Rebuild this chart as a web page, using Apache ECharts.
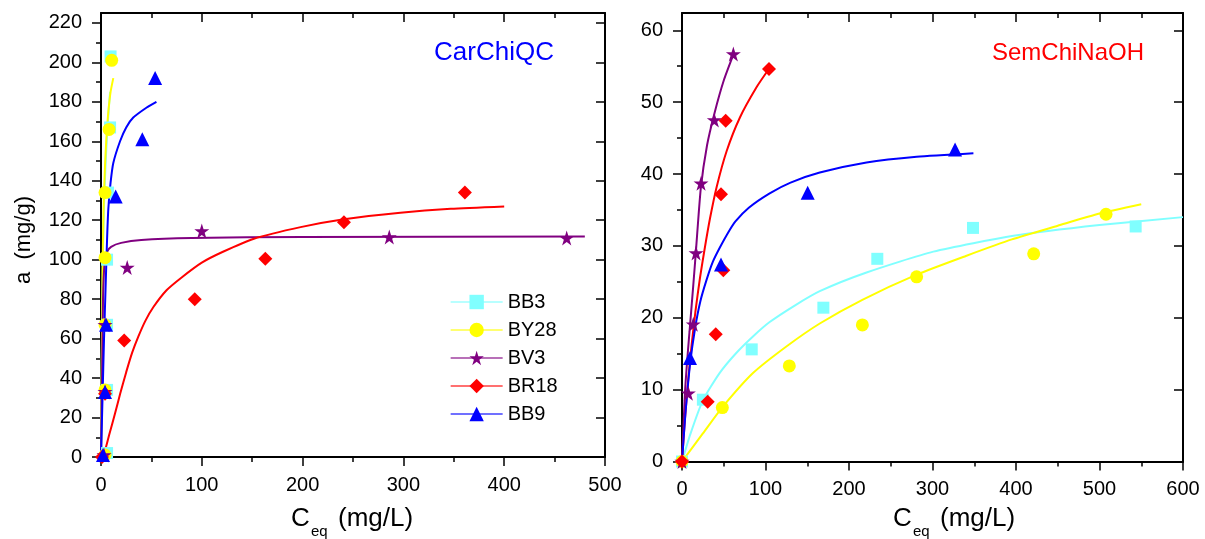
<!DOCTYPE html>
<html>
<head>
<meta charset="utf-8">
<script src="https://cdn.jsdelivr.net/npm/echarts@6/dist/echarts.min.js"></script>
<style>
  html, body { margin: 0; padding: 0; background: #ffffff; }
  #chart { width: 1205px; height: 539px; }
</style>
</head>
<body>
<div id="chart"></div>
<script>
// Dye names (legend order)
const dyeNames = ['BB3', 'BY28', 'BV3', 'BR18', 'BB9'];

// ---- CarChiQC: measured points [C_eq, a] ----
const carBB3  = [[6, 2], [6, 34], [6, 67], [6, 100], [7, 134], [9, 167], [9.5, 203]];
const carBY28 = [[4, 1], [4, 34], [4, 67], [4, 101], [4, 134], [8, 166], [10.6, 201]];
const carBV3  = [[3, 1], [4, 33], [4, 67], [26, 96], [100, 114.5], [286, 111.5], [462, 111]];
const carBR18 = [[1, 0], [4, 32], [23, 59], [93, 80], [163, 100.5], [241, 119], [361, 134]];
const carBB9  = [[2, 1], [4, 33], [5, 67], [14.6, 132], [41, 161], [53.7, 192]];

// ---- CarChiQC: fitted isotherm curves [C_eq, a] ----
const carFitBB3  = [[0, 0], [0.5, 35], [1, 65], [2, 105], [3, 128], [4.5, 148], [6, 163], [7.5, 175], [9, 185]];
const carFitBY28 = [[0, 0], [0.5, 30], [1, 60], [1.7, 100], [2.5, 125], [4, 148], [5.5, 163], [7.3, 175], [9.5, 185], [12.2, 192]];
const carFitBV3  = [[0, 0], [1, 40], [2, 80], [3.5, 98], [6, 104], [10, 106.5], [20, 108.5], [40, 110], [90, 111], [200, 111.5], [480, 111.8]];
const carFitBR18 = [[1.5, 0], [3.3, 2], [8, 11], [13.9, 22], [19, 32], [25, 43], [31, 53], [37, 61], [44, 69], [52, 76],
                    [65, 84.5], [80, 91], [100, 98.5], [121, 104], [151, 110.5], [198, 116.5], [241, 120.5], [297, 123.8], [347, 125.8], [400, 127]];
const carFitBB9  = [[0, 0], [1.5, 30], [3, 60], [4.5, 85], [6, 110], [7.3, 126], [9.5, 139], [12.2, 149], [18.9, 160], [25, 167], [32, 172], [45, 177], [55, 180]];

// ---- SemChiNaOH: measured points [C_eq, a] ----
const semBB3  = [[0, 0], [25, 8.6], [83.5, 15.6], [169.3, 21.4], [233.9, 28.2], [348.5, 32.5], [543.3, 32.7]];
const semBY28 = [[0, 0], [48.3, 7.5], [128.5, 13.3], [216, 19], [281, 25.7], [421.2, 28.9], [507.8, 34.4]];
const semBV3  = [[0, 0], [7.6, 9.5], [13.5, 19.1], [16.8, 29], [22.8, 38.7], [38.7, 47.5], [61.5, 56.7]];
const semBR18 = [[0, 0], [30.8, 8.3], [40.4, 17.7], [49.5, 26.6], [46.7, 37.2], [52.3, 47.4], [104.2, 54.6]];
const semBB9  = [[9.6, 14.4], [46.7, 27.4], [150.5, 37.4], [327, 43.4]];

// ---- SemChiNaOH: fitted isotherm curves [C_eq, a] ----
const semFitBB3  = [[0, 0], [10, 3.8], [25, 8.5], [45, 12.3], [65, 15.1], [85, 17.4], [105, 19.4], [135, 21.7], [165, 23.7],
                    [221, 26.3], [301, 29.2], [397, 31.4], [500, 32.9], [600, 34]];
const semFitBY28 = [[0, 0], [25, 3.9], [48, 7.5], [85, 12.3], [125, 16], [165, 19.2], [216, 22.5], [281, 26], [340, 28.6],
                    [395, 30.9], [450, 32.8], [500, 34.5], [550, 35.8]];
const semFitBV3  = [[0, 0], [3.5, 9.5], [6.5, 14.5], [10, 19.5], [13.5, 24.5], [16.5, 29], [22.5, 38], [30, 44], [39, 48.5], [50, 53], [61.5, 56.6]];
const semFitBR18 = [[0, 0], [3.6, 6], [7.5, 11.5], [11.6, 16.3], [16, 20.8], [21.6, 25.6], [27, 29.5], [33.5, 33.8], [41.5, 38.2],
                    [53.5, 43.2], [69.5, 47.9], [89.4, 52.1], [103.4, 54.5]];
const semFitBB9  = [[0, 0], [4, 6.5], [9.6, 13.5], [15.6, 18.5], [22, 22.3], [29.5, 25.3], [37, 27.8], [45.5, 29.8], [55, 31.8],
                    [64, 33.4], [80, 35.3], [105, 37.3], [130, 38.8], [165, 40.2], [221, 41.6], [281, 42.4], [349, 42.9]];

// ---- Axis ticks ----
const carXMax = 500;
const carYMax = 225;
const carYMajor = [0, 20, 40, 60, 80, 100, 120, 140, 160, 180, 200, 220];
const carYMinor = [10, 30, 50, 70, 90, 110, 130, 150, 170, 190, 210];
const semXMax = 600;
const semYMax = 62.4;
const semYMajor = [0, 10, 20, 30, 40, 50, 60];
const semYMinor = [5, 15, 25, 35, 45, 55];

// ---- Styles ----
const FONT = '"Liberation Sans", Arial, Helvetica, sans-serif';
const STAR = 'path://M12,0 L14.8,8.6 L23.9,8.6 L16.5,13.9 L19.3,22.6 L12,17.2 L4.7,22.6 L7.5,13.9 L0.1,8.6 L9.2,8.6 Z';
const dyeStyle = {
  BB3:  { color: '#80FFFF', symbol: 'rect',     size: 12 },
  BY28: { color: '#FFFF00', symbol: 'circle',   size: 13 },
  BV3:  { color: '#800080', symbol: STAR,       size: 15 },
  BR18: { color: '#FF0000', symbol: 'diamond',  size: 14 },
  BB9:  { color: '#0000FF', symbol: 'triangle', size: 14 }
};
const lineBlack = { color: '#000000', width: 2 };
const tickBlack = { color: '#000000', width: 1.5 };

function fitSeries(name, data, xi, yi) {
  const s = dyeStyle[name];
  return {
    type: 'line', name: name, data: data, xAxisIndex: xi, yAxisIndex: yi,
    smooth: 0.2, showSymbol: false, symbol: s.symbol, symbolSize: s.size,
    lineStyle: { color: s.color, width: 2 }, itemStyle: { color: s.color },
    z: 2, silent: true, animation: false
  };
}
function pointSeries(name, data, xi, yi) {
  const s = dyeStyle[name];
  return {
    type: 'scatter', name: name, data: data, xAxisIndex: xi, yAxisIndex: yi,
    symbol: s.symbol, symbolSize: s.size, itemStyle: { color: s.color, opacity: 1 },
    z: 3, silent: true, animation: false
  };
}

function xAxes(gridIndex, max) {
  const base = { gridIndex: gridIndex, type: 'value', min: 0, max: max, interval: 100,
    splitLine: { show: false }, minorSplitLine: { show: false } };
  return [
    Object.assign({}, base, {
      position: 'bottom',
      axisLine: { show: true, onZero: false, lineStyle: lineBlack },
      axisTick: { show: true, inside: false, length: 9, lineStyle: tickBlack },
      minorTick: { show: true, splitNumber: 2, length: 5, lineStyle: tickBlack },
      axisLabel: { show: true, margin: 18, fontSize: 20, color: '#000', fontFamily: FONT }
    }),
    Object.assign({}, base, {
      position: 'top',
      axisLine: { show: true, onZero: false, lineStyle: lineBlack },
      axisTick: { show: true, inside: true, length: 9, lineStyle: tickBlack },
      minorTick: { show: true, splitNumber: 2, length: 5, lineStyle: tickBlack },
      axisLabel: { show: false }
    })
  ];
}

function yAxes(gridIndex, max, majors, minors) {
  const base = { gridIndex: gridIndex, type: 'value', min: 0, max: max, splitLine: { show: false } };
  return [
    Object.assign({}, base, {
      position: 'left',
      axisLine: { show: true, onZero: false, lineStyle: lineBlack },
      axisTick: { show: true, inside: false, length: 9, customValues: majors, lineStyle: tickBlack },
      axisLabel: { show: true, customValues: majors, margin: 19, fontSize: 20, color: '#000', fontFamily: FONT }
    }),
    Object.assign({}, base, {
      position: 'left',
      axisLine: { show: false },
      axisTick: { show: true, inside: false, length: 5, customValues: minors, lineStyle: tickBlack },
      axisLabel: { show: false }
    }),
    Object.assign({}, base, {
      position: 'right',
      axisLine: { show: true, onZero: false, lineStyle: lineBlack },
      axisTick: { show: true, inside: true, length: 9, customValues: majors, lineStyle: tickBlack },
      axisLabel: { show: false }
    }),
    Object.assign({}, base, {
      position: 'right',
      axisLine: { show: false },
      axisTick: { show: true, inside: true, length: 5, customValues: minors, lineStyle: tickBlack },
      axisLabel: { show: false }
    })
  ];
}

const carPoints = [carBB3, carBY28, carBV3, carBR18, carBB9];
const carFits = [carFitBB3, carFitBY28, carFitBV3, carFitBR18, carFitBB9];
const semPoints = [semBB3, semBY28, semBV3, semBR18, semBB9];
const semFits = [semFitBB3, semFitBY28, semFitBV3, semFitBR18, semFitBB9];

const series = [];
dyeNames.forEach((n, i) => series.push(fitSeries(n, carFits[i], 0, 0)));
dyeNames.forEach((n, i) => series.push(fitSeries(n, semFits[i], 2, 4)));
dyeNames.forEach((n, i) => series.push(pointSeries(n, carPoints[i], 0, 0)));
dyeNames.forEach((n, i) => series.push(pointSeries(n, semPoints[i], 2, 4)));

// "C_eq (mg/L)" with subscript, drawn from three text pieces
function axisTitle(x) {
  return [
    { type: 'text', x: x, y: 519, silent: true,
      style: { text: 'C', font: '26px ' + FONT, fill: '#000', verticalAlign: 'middle' } },
    { type: 'text', x: x + 20, y: 532, silent: true,
      style: { text: 'eq', font: '15px ' + FONT, fill: '#000', verticalAlign: 'middle' } },
    { type: 'text', x: x + 47, y: 519, silent: true,
      style: { text: '(mg/L)', font: '26px ' + FONT, fill: '#000', verticalAlign: 'middle' } }
  ];
}

const chart = echarts.init(document.getElementById('chart'), null, { renderer: 'canvas' });
chart.setOption({
  animation: false,
  backgroundColor: '#ffffff',
  grid: [
    { left: 101, top: 13, width: 504, height: 444, outerBoundsMode: 'none', containLabel: false },
    { left: 682, top: 13, width: 501, height: 448.5, outerBoundsMode: 'none', containLabel: false }
  ],
  xAxis: [].concat(xAxes(0, carXMax), xAxes(1, semXMax)),
  yAxis: [].concat(yAxes(0, carYMax, carYMajor, carYMinor), yAxes(1, semYMax, semYMajor, semYMinor)),
  legend: {
    data: dyeNames, orient: 'vertical', left: 450, top: 292, padding: 0,
    itemWidth: 52, itemHeight: 18, itemGap: 8, selectedMode: false,
    lineStyle: { width: 1.3, opacity: 0.75 },
    textStyle: { fontSize: 20, lineHeight: 20, color: '#000', fontFamily: FONT }
  },
  tooltip: { show: false },
  graphic: [
    { type: 'text', x: 554, y: 53, silent: true,
      style: { text: 'CarChiQC', font: '26px ' + FONT, fill: '#0000FF', align: 'right', verticalAlign: 'middle' } },
    { type: 'text', x: 1144, y: 53, silent: true,
      style: { text: 'SemChiNaOH', font: '24px ' + FONT, fill: '#FF0000', align: 'right', verticalAlign: 'middle' } },
    { type: 'text', x: 24, y: 240, rotation: Math.PI / 2, silent: true,
      style: { text: 'a  (mg/g)', font: '22px ' + FONT, fill: '#000', align: 'center', verticalAlign: 'middle' } }
  ].concat(axisTitle(291), axisTitle(893)),
  series: series
});
</script>
</body>
</html>
